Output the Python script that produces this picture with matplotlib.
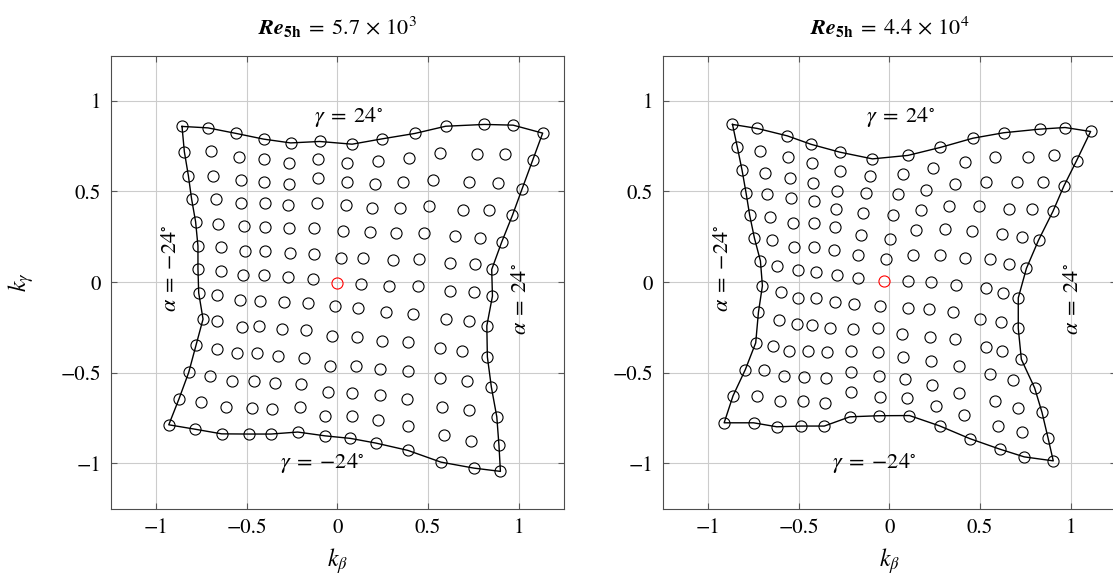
import numpy as np
import matplotlib
matplotlib.use("Agg")
import matplotlib.pyplot as plt

# serif look close to the original (Libertine-like)
plt.rcParams['font.family'] = 'STIXGeneral'
plt.rcParams['mathtext.fontset'] = 'stix'

# tick positions / labels (both axes, both panels)
tick_values = [-1, -0.5, 0, 0.5, 1]
tick_labels = ['\u22121', '\u22120.5', '0', '0.5', '1']

titles = [r'$\mathbfit{Re}_{\mathbf{5h}}\;=\;5.7\,\times\,10^{3}$',
          r'$\mathbfit{Re}_{\mathbf{5h}}\;=\;4.4\,\times\,10^{4}$']

# 13 x 13 grid of (k_beta, k_gamma); rows = gamma 24 -> -24, cols = alpha -24 -> 24
# low Reynolds number (left panel)
kb_low = [
    [-0.857, -0.714, -0.557, -0.407, -0.258, -0.098, 0.081, 0.244, 0.426, 0.597, 0.811, 0.969, 1.132],
    [-0.844, -0.697, -0.543, -0.407, -0.267, -0.105, 0.055, 0.222, 0.395, 0.566, 0.772, 0.923, 1.077],
    [-0.822, -0.686, -0.530, -0.405, -0.267, -0.109, 0.055, 0.207, 0.364, 0.526, 0.724, 0.883, 1.018],
    [-0.804, -0.667, -0.530, -0.399, -0.270, -0.114, 0.048, 0.191, 0.344, 0.505, 0.691, 0.838, 0.965],
    [-0.782, -0.656, -0.517, -0.401, -0.265, -0.127, 0.033, 0.178, 0.325, 0.480, 0.647, 0.789, 0.906],
    [-0.769, -0.640, -0.510, -0.399, -0.263, -0.127, 0.022, 0.140, 0.305, 0.452, 0.623, 0.759, 0.851],
    [-0.769, -0.642, -0.521, -0.405, -0.272, -0.135, 0.000, 0.129, 0.285, 0.443, 0.623, 0.756, 0.855],
    [-0.765, -0.664, -0.537, -0.429, -0.292, -0.162, -0.015, 0.114, 0.270, 0.417, 0.597, 0.726, 0.824],
    [-0.741, -0.662, -0.528, -0.430, -0.307, -0.175, -0.028, 0.108, 0.248, 0.389, 0.568, 0.687, 0.827],
    [-0.780, -0.662, -0.554, -0.441, -0.325, -0.184, -0.042, 0.103, 0.233, 0.389, 0.566, 0.713, 0.849],
    [-0.820, -0.701, -0.583, -0.462, -0.342, -0.201, -0.052, 0.083, 0.237, 0.386, 0.579, 0.728, 0.879],
    [-0.874, -0.750, -0.616, -0.473, -0.359, -0.208, -0.068, 0.083, 0.224, 0.388, 0.586, 0.739, 0.891],
    [-0.930, -0.787, -0.638, -0.489, -0.366, -0.219, -0.068, 0.072, 0.213, 0.388, 0.571, 0.753, 0.899],
]
kg_low = [
    [0.859, 0.851, 0.820, 0.789, 0.768, 0.776, 0.761, 0.790, 0.820, 0.860, 0.870, 0.866, 0.822],
    [0.719, 0.721, 0.691, 0.680, 0.656, 0.678, 0.655, 0.666, 0.686, 0.711, 0.706, 0.708, 0.673],
    [0.588, 0.586, 0.563, 0.555, 0.544, 0.574, 0.550, 0.541, 0.550, 0.563, 0.552, 0.548, 0.513],
    [0.458, 0.456, 0.439, 0.437, 0.427, 0.439, 0.423, 0.408, 0.408, 0.419, 0.397, 0.399, 0.368],
    [0.333, 0.322, 0.309, 0.305, 0.296, 0.298, 0.281, 0.276, 0.270, 0.272, 0.255, 0.246, 0.221],
    [0.199, 0.195, 0.173, 0.173, 0.160, 0.156, 0.132, 0.131, 0.123, 0.127, 0.105, 0.101, 0.070],
    [0.073, 0.062, 0.040, 0.042, 0.028, 0.018, -0.005, -0.011, -0.022, -0.022, -0.048, -0.053, -0.077],
    [-0.059, -0.072, -0.098, -0.103, -0.112, -0.114, -0.132, -0.143, -0.167, -0.178, -0.204, -0.213, -0.241],
    [-0.204, -0.213, -0.248, -0.244, -0.259, -0.263, -0.296, -0.305, -0.325, -0.333, -0.366, -0.381, -0.412],
    [-0.349, -0.371, -0.390, -0.393, -0.408, -0.417, -0.460, -0.461, -0.478, -0.489, -0.528, -0.544, -0.579],
    [-0.498, -0.517, -0.544, -0.544, -0.559, -0.561, -0.607, -0.609, -0.623, -0.644, -0.688, -0.706, -0.743],
    [-0.645, -0.664, -0.688, -0.695, -0.699, -0.691, -0.739, -0.739, -0.763, -0.793, -0.846, -0.875, -0.901],
    [-0.787, -0.811, -0.837, -0.838, -0.838, -0.827, -0.848, -0.862, -0.888, -0.928, -0.993, -1.026, -1.044],
]

# high Reynolds number (right panel)
kb_high = [
    [-0.865, -0.729, -0.563, -0.431, -0.273, -0.093, 0.102, 0.281, 0.461, 0.630, 0.829, 0.969, 1.110],
    [-0.839, -0.711, -0.558, -0.424, -0.273, -0.105, 0.078, 0.242, 0.415, 0.582, 0.764, 0.908, 1.033],
    [-0.812, -0.687, -0.549, -0.422, -0.288, -0.130, 0.047, 0.201, 0.361, 0.531, 0.706, 0.845, 0.963],
    [-0.790, -0.676, -0.544, -0.418, -0.293, -0.144, 0.018, 0.172, 0.328, 0.492, 0.660, 0.786, 0.902],
    [-0.770, -0.658, -0.533, -0.418, -0.301, -0.159, 0.001, 0.148, 0.306, 0.458, 0.619, 0.733, 0.823],
    [-0.744, -0.645, -0.527, -0.418, -0.304, -0.174, -0.018, 0.128, 0.277, 0.419, 0.555, 0.658, 0.756],
    [-0.711, -0.619, -0.505, -0.403, -0.291, -0.175, -0.032, 0.102, 0.227, 0.369, 0.531, 0.629, 0.711],
    [-0.700, -0.600, -0.503, -0.402, -0.297, -0.194, -0.054, 0.102, 0.218, 0.353, 0.499, 0.618, 0.711],
    [-0.722, -0.611, -0.508, -0.428, -0.328, -0.199, -0.060, 0.071, 0.222, 0.364, 0.531, 0.623, 0.728],
    [-0.737, -0.643, -0.555, -0.451, -0.343, -0.210, -0.063, 0.077, 0.231, 0.382, 0.555, 0.680, 0.801],
    [-0.794, -0.690, -0.580, -0.470, -0.352, -0.210, -0.058, 0.088, 0.233, 0.384, 0.581, 0.709, 0.842],
    [-0.862, -0.731, -0.602, -0.475, -0.354, -0.209, -0.049, 0.099, 0.255, 0.413, 0.599, 0.733, 0.875],
    [-0.911, -0.749, -0.621, -0.485, -0.359, -0.218, -0.058, 0.111, 0.277, 0.443, 0.608, 0.744, 0.904],
]
kg_high = [
    [0.870, 0.848, 0.807, 0.760, 0.717, 0.680, 0.699, 0.743, 0.794, 0.824, 0.844, 0.853, 0.831],
    [0.748, 0.721, 0.693, 0.658, 0.611, 0.588, 0.598, 0.627, 0.664, 0.691, 0.693, 0.700, 0.671],
    [0.616, 0.603, 0.577, 0.546, 0.504, 0.491, 0.485, 0.511, 0.544, 0.552, 0.552, 0.550, 0.531],
    [0.491, 0.485, 0.463, 0.445, 0.404, 0.384, 0.368, 0.399, 0.421, 0.421, 0.403, 0.404, 0.390],
    [0.368, 0.360, 0.325, 0.327, 0.302, 0.259, 0.239, 0.287, 0.292, 0.280, 0.263, 0.248, 0.232],
    [0.243, 0.233, 0.195, 0.193, 0.178, 0.149, 0.127, 0.151, 0.149, 0.134, 0.125, 0.101, 0.076],
    [0.117, 0.090, 0.065, 0.057, 0.039, 0.022, 0.005, 0.006, 0.002, -0.015, -0.035, -0.059, -0.087],
    [-0.020, -0.057, -0.088, -0.088, -0.110, -0.118, -0.132, -0.145, -0.147, -0.164, -0.202, -0.221, -0.255],
    [-0.167, -0.211, -0.233, -0.237, -0.252, -0.261, -0.255, -0.287, -0.303, -0.314, -0.359, -0.379, -0.426],
    [-0.335, -0.351, -0.381, -0.381, -0.388, -0.382, -0.384, -0.414, -0.434, -0.463, -0.507, -0.539, -0.583],
    [-0.482, -0.482, -0.518, -0.524, -0.530, -0.496, -0.520, -0.533, -0.568, -0.610, -0.658, -0.693, -0.719],
    [-0.627, -0.627, -0.655, -0.658, -0.666, -0.607, -0.633, -0.641, -0.686, -0.735, -0.794, -0.826, -0.859],
    [-0.776, -0.776, -0.798, -0.794, -0.794, -0.743, -0.737, -0.736, -0.793, -0.863, -0.921, -0.964, -0.986],
]


def outline(a):
    # walk round the outer ring: top row, right column, bottom row, left column
    a = np.asarray(a)
    return np.concatenate([a[0, :], a[1:, -1], a[-1, -2::-1], a[-2::-1, 0]])


def draw_panel(ax, kb, kg, title, ylabel=True):
    kb = np.asarray(kb)
    kg = np.asarray(kg)

    # boundary line
    ax.plot(outline(kb), outline(kg), color='black', lw=1.0, zorder=2)

    # all points except the centre one (alpha = gamma = 0) in black
    mask = np.ones(kb.shape, dtype=bool)
    mask[6, 6] = False
    ax.plot(kb[mask], kg[mask], 'o', ms=8, mfc='none', mec='black', mew=0.8, zorder=3)
    ax.plot(kb[6, 6], kg[6, 6], 'o', ms=8, mfc='none', mec='red', mew=0.8, zorder=4)

    ax.set_xlim(-1.25, 1.25)
    ax.set_ylim(-1.25, 1.25)
    ax.set_xticks(tick_values)
    ax.set_xticklabels(tick_labels)
    ax.set_yticks(tick_values)
    ax.set_yticklabels(tick_labels)
    ax.grid(True, color='0.8', lw=0.8)
    ax.set_axisbelow(True)
    ax.tick_params(direction='in', top=True, right=True, length=4, width=0.8,
                   color='0.35', labelsize=15, pad=7)
    for sp in ax.spines.values():
        sp.set_color('0.3')
        sp.set_linewidth(0.8)

    ax.set_title(title, fontsize=16, pad=15)
    ax.set_xlabel(r'$k_{\beta}$', fontsize=17, labelpad=6)
    if ylabel:
        ax.set_ylabel(r'$k_{\gamma}$', fontsize=17, labelpad=18)

    # labels of the outer lines
    ax.text(0.06, 0.91, r'$\gamma\;=\;24^{\circ}$', fontsize=16, ha='center', va='center')
    ax.text(-0.085, -1.0, r'$\gamma\;=\;{-}24^{\circ}$', fontsize=16, ha='center', va='center')
    ax.text(-0.915, 0.077, r'$\alpha\;=\;{-}24^{\circ}$', fontsize=16, ha='center', va='center', rotation=90)
    ax.text(1.015, -0.09, r'$\alpha\;=\;24^{\circ}$', fontsize=16, ha='center', va='center', rotation=90)


fig = plt.figure(figsize=(11.13, 5.81), dpi=100)
ax1 = fig.add_axes([0.0995, 0.1244, 0.4073, 0.780])
ax2 = fig.add_axes([0.5954, 0.1244, 0.4073, 0.780])

draw_panel(ax1, kb_low, kg_low, titles[0])
draw_panel(ax2, kb_high, kg_high, titles[1], ylabel=False)

fig.savefig('out.png', dpi=100)
